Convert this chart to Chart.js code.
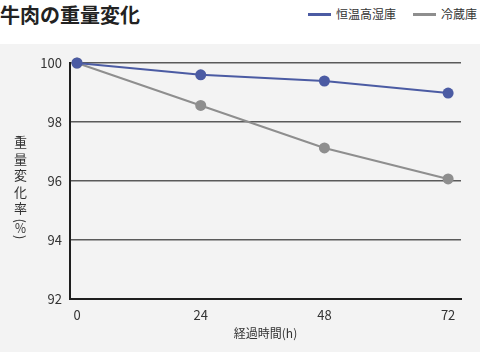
<!DOCTYPE html>
<html>
<head>
<meta charset="utf-8">
<script src="https://cdn.jsdelivr.net/npm/chart.js@4"></script>
<style>
  html, body { margin:0; padding:0; background:#fff; }
  body { width:480px; height:352px; position:relative; overflow:hidden; font-family:"Noto Sans CJK JP","Noto Sans",sans-serif; }
  #title { position:absolute; left:0; top:1px; font-size:20px; font-weight:bold; color:#222; line-height:28px; letter-spacing:0px; }
  #legend { position:absolute; top:6px; left:308px; font-size:12px; color:#333; line-height:16px; white-space:nowrap; }
  #legend span.item { position:absolute; top:0; white-space:nowrap; }
  #legend i { display:inline-block; width:23px; height:3px; vertical-align:middle; margin-right:5px; position:relative; top:-1px; }
  #panel { position:absolute; left:0; top:44px; width:480px; height:308px; background:#f3f3f3; }
  #ytitle { position:absolute; left:12px; top:136px; writing-mode:vertical-rl; font-size:13px; color:#333; letter-spacing:3.5px; line-height:16px; }
  #ytitle .p { letter-spacing:0; }
  #ytitle .pc { letter-spacing:0; font-size:12px; }
  canvas { position:absolute; left:0; top:0; }
</style>
</head>
<body>
<div id="title">牛肉の重量変化</div>
<div id="legend"></div>
<div id="panel"><canvas id="c" width="480" height="308"></canvas></div>
<div id="ytitle">重量変化率<span class="p">(</span><span class="pc">％</span><span class="p">)</span></div>
<script>
const hours = [0, 24, 48, 72];
const seriesNames = ["恒温高湿庫", "冷蔵庫"];
const constantHumid = [100, 99.6, 99.39, 98.98];
const refrigerator = [100, 98.56, 97.12, 96.07];
const yTicks = [92, 94, 96, 98, 100];
const xTicks = [0, 24, 48, 72];
const colors = ["#4b5ba3", "#8e8e8e"];

// legend
const lg = document.getElementById('legend');
const legendX = [0, 105];
seriesNames.forEach((n, i) => {
  const s = document.createElement('span');
  s.className = 'item';
  s.style.left = legendX[i] + 'px';
  s.innerHTML = '<i style="background:' + colors[i] + '"></i>' + n;
  lg.appendChild(s);
});

const toPts = arr => hours.map((h, i) => ({x: h, y: arr[i]}));
const FONT = '"Noto Sans CJK JP","Noto Sans",sans-serif';

new Chart(document.getElementById('c'), {
  type: 'line',
  data: {
    datasets: [
      { label: seriesNames[0], data: toPts(constantHumid), borderColor: colors[0], backgroundColor: colors[0],
        borderWidth: 2, pointRadius: 5.5, pointHoverRadius: 5.5, pointBorderWidth: 0, clip: false, tension: 0 },
      { label: seriesNames[1], data: toPts(refrigerator), borderColor: colors[1], backgroundColor: colors[1],
        borderWidth: 2, pointRadius: 5.5, pointHoverRadius: 5.5, pointBorderWidth: 0, clip: false, tension: 0 }
    ]
  },
  options: {
    responsive: false,
    animation: false,
    events: [],
    layout: { padding: { left: 0, right: 19, top: 19, bottom: 0 } },
    plugins: { legend: { display: false }, tooltip: { enabled: false }, title: { display: false } },
    scales: {
      x: {
        type: 'linear',
        min: -1.36,
        max: 74.5,
        afterBuildTicks: s => { s.ticks = xTicks.map(v => ({value: v})); },
        grid: { display: false, drawTicks: false },
        border: { display: true, color: '#1e1e1e', width: 2 },
        ticks: { color: '#333', font: { size: 13, family: FONT }, padding: 8, maxRotation: 0, autoSkip: false },
        title: { display: true, text: '経過時間(h)', color: '#333', font: { size: 12, family: FONT }, padding: { top: 2, bottom: 11 } },
        afterFit: s => { s.height = 53; }
      },
      y: {
        type: 'linear',
        min: 92,
        max: 100,
        afterBuildTicks: s => { s.ticks = yTicks.map(v => ({value: v})); },
        grid: { color: '#5a5a5a', lineWidth: 1.5, drawTicks: false },
        border: { display: true, color: '#1e1e1e', width: 2 },
        ticks: { color: '#333', font: { size: 13, family: FONT }, padding: 8 },
        afterFit: s => { s.width = 70; }
      }
    }
  }
});
</script>
</body>
</html>
